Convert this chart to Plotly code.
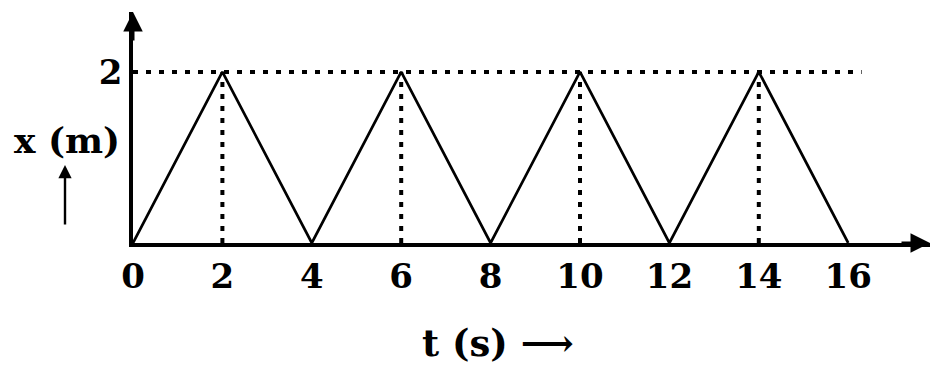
import plotly.graph_objects as go

# displacement-time data (triangular motion)
t_vals = [0, 2, 4, 6, 8, 10, 12, 14, 16]
x_vals = [0, 2, 0, 2, 0, 2, 0, 2, 0]
peak_times = [2, 6, 10, 14]
peak_x = 2
t_ticks = [0, 2, 4, 6, 8, 10, 12, 14, 16]

FONT = "DejaVu Serif"
t_max = 17.83
x_max = 2.70

# plot area in pixels
L, R, T, B = 133, 4, 12, 126
W_plot = 934 - L - R
H_plot = 369 - T - B

def px_to_paper(px, py):
  return (px - L) / W_plot, (369 - B - py) / H_plot

fig = go.Figure()

# dotted guide lines
fig.add_trace(go.Scatter(
  x=[0, 16.3], y=[peak_x, peak_x], mode="lines",
  line=dict(color="black", width=4, dash="5px,8px"), hoverinfo="skip"))
for pt in peak_times:
  fig.add_trace(go.Scatter(
    x=[pt, pt], y=[0, peak_x], mode="lines",
    line=dict(color="black", width=4, dash="5px,7px"), hoverinfo="skip"))

# main curve
fig.add_trace(go.Scatter(
  x=t_vals, y=x_vals, mode="lines",
  line=dict(color="black", width=2.7), hoverinfo="skip"))

xm_x, xm_y = px_to_paper(67, 140)
ts_x, ts_y = px_to_paper(498, 343)
up_x, up_y = px_to_paper(65, 165)

fig.update_layout(
  width=934, height=369,
  margin=dict(l=L, r=R, t=T, b=B),
  paper_bgcolor="white", plot_bgcolor="white",
  showlegend=False,
  xaxis=dict(range=[0, t_max], tickvals=t_ticks, ticktext=[str(v) for v in t_ticks],
             showgrid=False, zeroline=False, showline=True, linecolor="black", linewidth=3.5,
             ticks="", tickfont=dict(family=FONT, size=34, color="black", weight="bold"),
             ticklabelstandoff=0),
  yaxis=dict(range=[0, x_max], tickvals=[peak_x], ticktext=[str(peak_x)],
             showgrid=False, zeroline=False, showline=True, linecolor="black", linewidth=3.5,
             ticks="", tickfont=dict(family=FONT, size=34, color="black", weight="bold"),
             ticklabelstandoff=0),
  annotations=[
    # arrowheads on axes
    dict(x=t_max, y=0, xref="x", yref="y", ax=-30, ay=0, showarrow=True,
         arrowhead=2, arrowsize=1.3, arrowwidth=3, arrowcolor="black", text=""),
    dict(x=0, y=x_max, xref="x", yref="y", ax=0, ay=30, showarrow=True,
         arrowhead=2, arrowsize=1.3, arrowwidth=3, arrowcolor="black", text=""),
    # axis titles
    dict(x=xm_x, y=xm_y, xref="paper", yref="paper", text="<b>x (m)</b>", showarrow=False,
         xanchor="center", yanchor="middle",
         font=dict(family=FONT, size=36, color="black")),
    dict(x=ts_x, y=ts_y, xref="paper", yref="paper", text="<b>t (s) ⟶</b>", showarrow=False,
         xanchor="center", yanchor="middle",
         font=dict(family=FONT, size=37, color="black")),
    # small up-arrow under x (m)
    dict(x=up_x, y=up_y, xref="paper", yref="paper", ax=0, ay=61, showarrow=True,
         arrowhead=2, arrowsize=1.1, arrowwidth=2.4, arrowcolor="black", text=""),
  ],
)

fig.write_html("out.html", config={"displayModeBar": False},
               post_script="document.body.style.margin='0';")
